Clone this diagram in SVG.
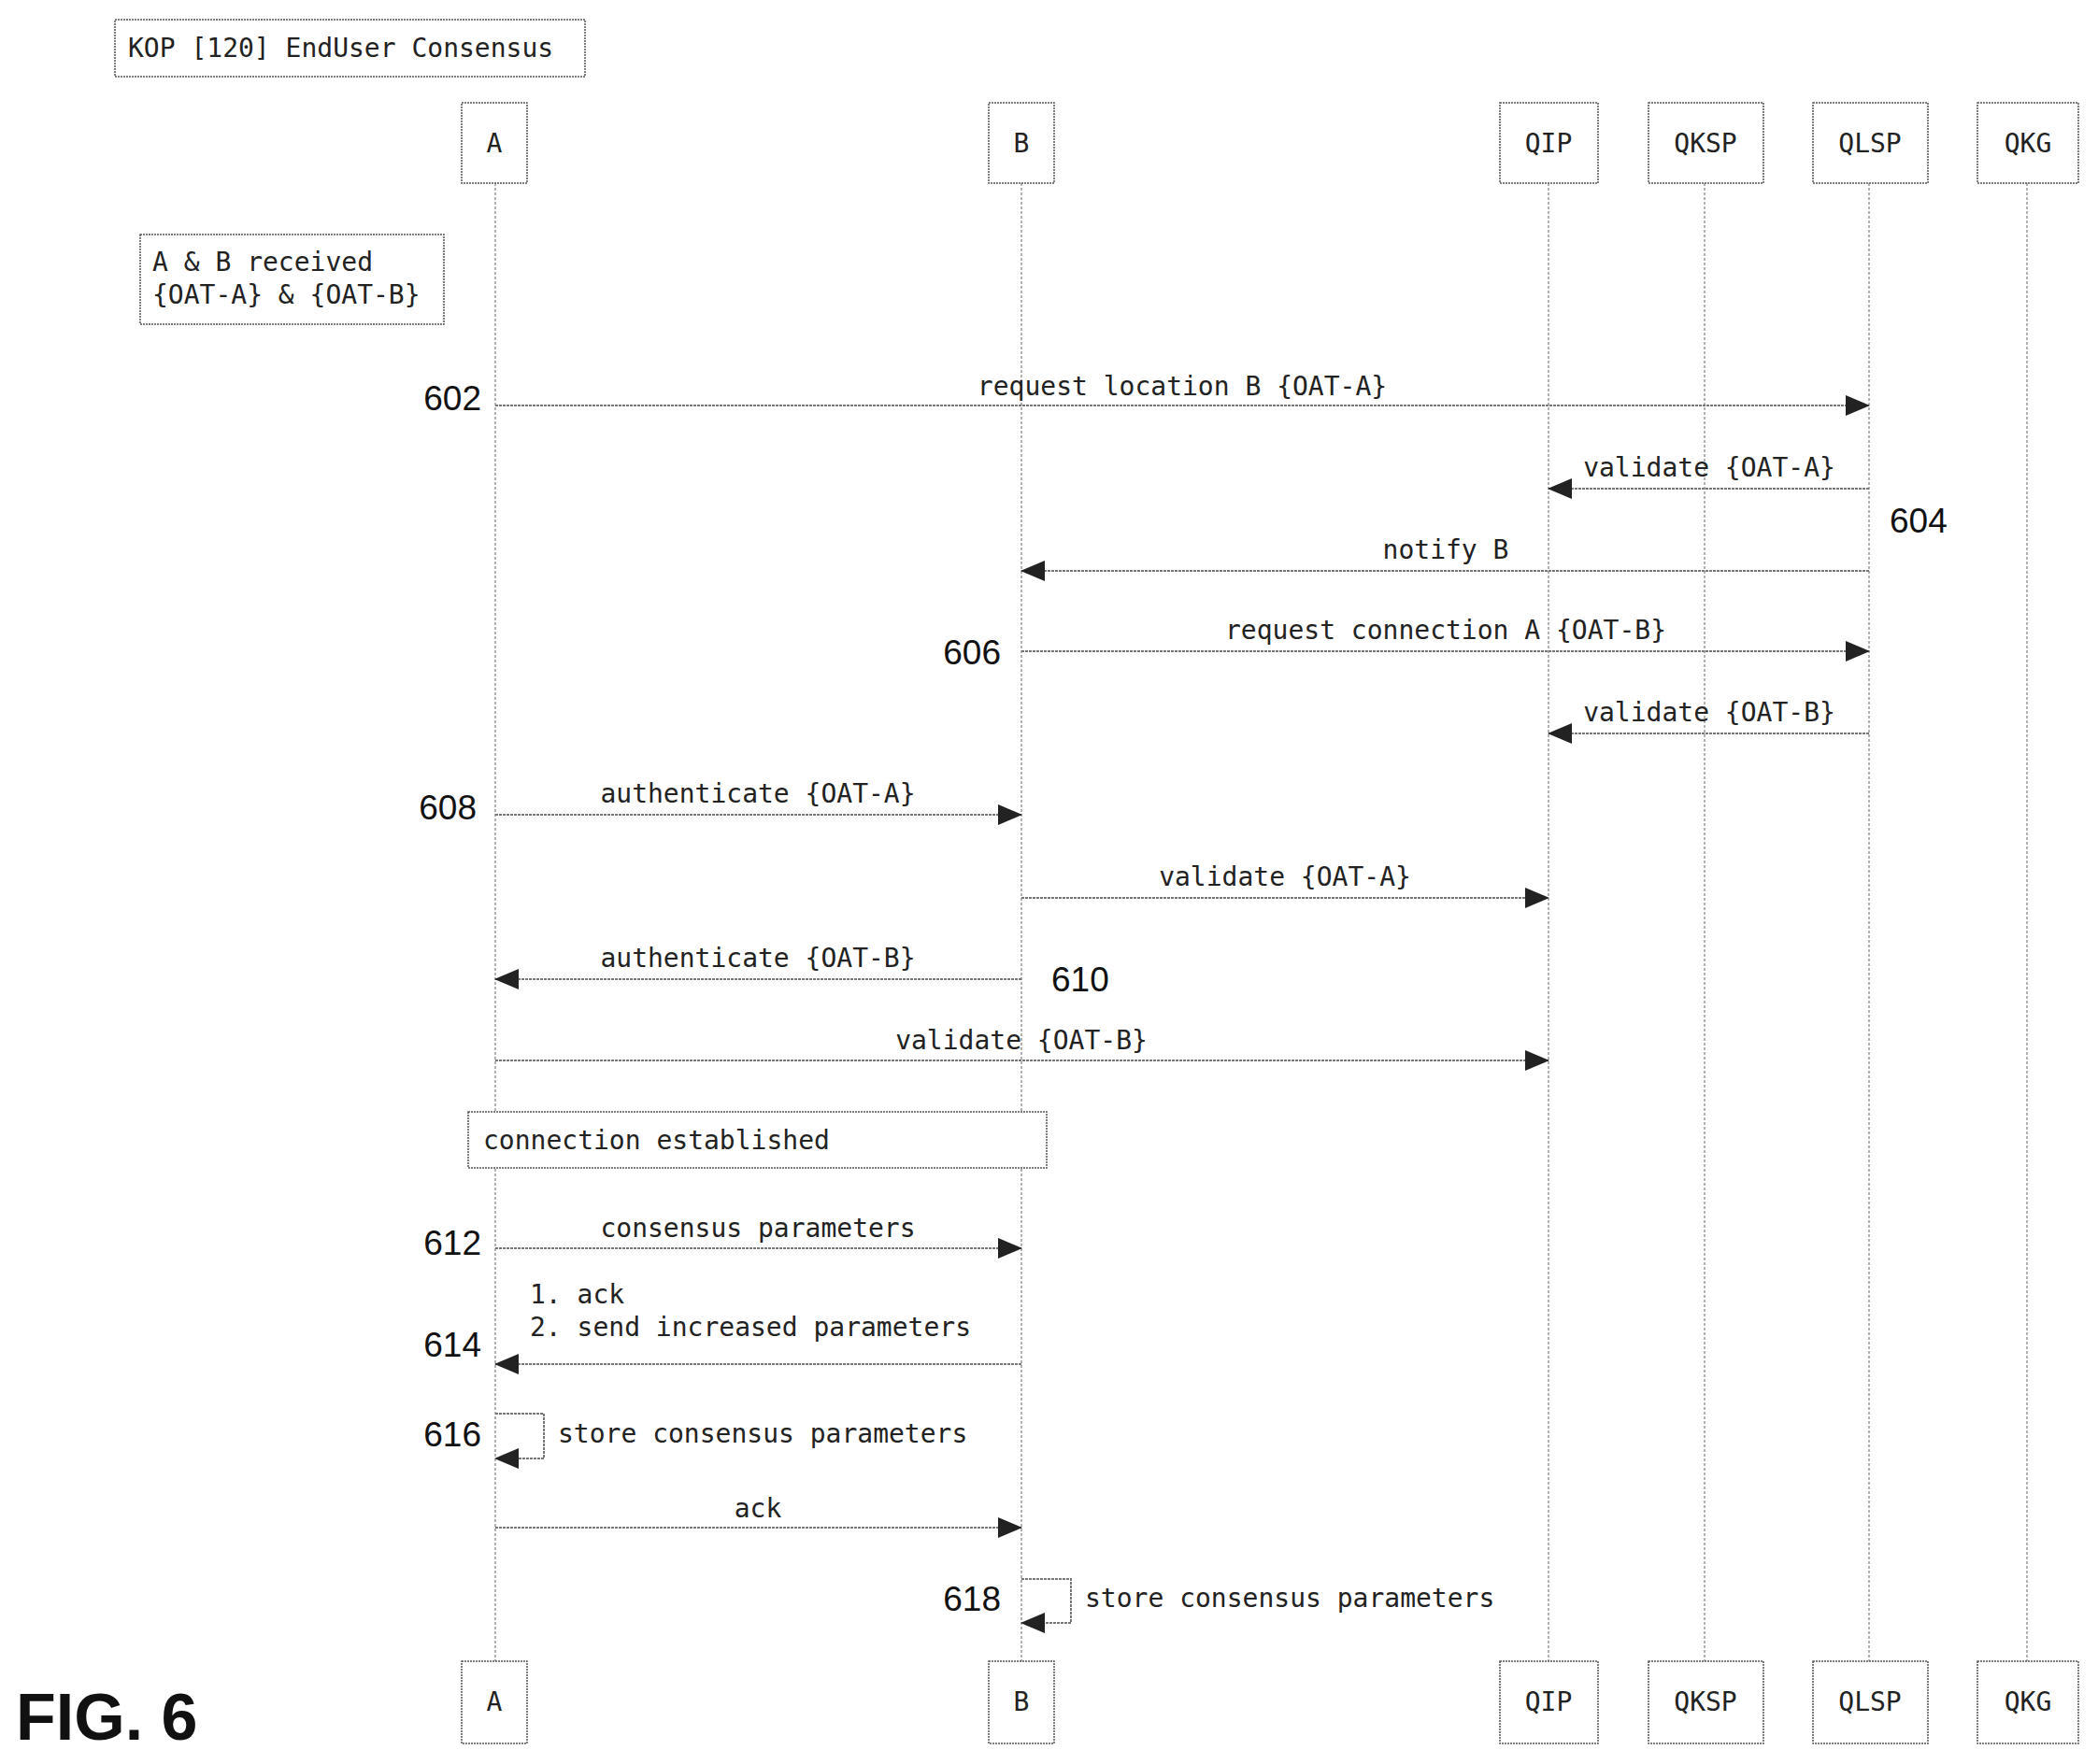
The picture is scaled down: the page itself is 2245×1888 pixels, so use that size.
<svg xmlns="http://www.w3.org/2000/svg" width="2245" height="1888" viewBox="0 0 2245 1888">
<style>
.box{fill:#fff;stroke:#555;stroke-width:1.5;stroke-dasharray:2 1}
.life{stroke:#999;stroke-width:1.5;stroke-dasharray:3 2}
.msg{stroke:#777;stroke-width:2;stroke-dasharray:3 1;fill:none;marker-end:url(#ah)}
.t{font-family:"DejaVu Sans Mono","Liberation Mono",monospace;font-size:28px;fill:#222}
.c{text-anchor:middle}
.n{font-family:"Liberation Sans",Arial,sans-serif;font-size:37px;fill:#111}
</style>
<defs><marker id="ah" markerWidth="26" markerHeight="22" refX="25" refY="11" orient="auto" markerUnits="userSpaceOnUse"><path d="M0,0 L26,11 L0,22 Z" fill="#222"/></marker></defs>
<rect x="0" y="0" width="2245" height="1888" fill="#fff"/>
<g id="title"><rect class="box" x="123" y="21" width="503" height="61"/><text class="t" x="137" y="61">KOP [120] EndUser Consensus</text></g>
<g id="lifelines">
<line class="life" x1="530" y1="196" x2="530" y2="1778"/>
<line class="life" x1="1093" y1="196" x2="1093" y2="1778"/>
<line class="life" x1="1657" y1="196" x2="1657" y2="1778"/>
<line class="life" x1="1824" y1="196" x2="1824" y2="1778"/>
<line class="life" x1="2000" y1="196" x2="2000" y2="1778"/>
<line class="life" x1="2169" y1="196" x2="2169" y2="1778"/>
</g>
<g id="A"><rect class="box" x="494" y="110" width="70" height="86"/><text class="t c" x="529" y="163">A</text><rect class="box" x="494" y="1778" width="70" height="88"/><text class="t c" x="529" y="1831">A</text></g>
<g id="B"><rect class="box" x="1058" y="110" width="70" height="86"/><text class="t c" x="1093" y="163">B</text><rect class="box" x="1058" y="1778" width="70" height="88"/><text class="t c" x="1093" y="1831">B</text></g>
<g id="QIP"><rect class="box" x="1605" y="110" width="105" height="86"/><text class="t c" x="1657" y="163">QIP</text><rect class="box" x="1605" y="1778" width="105" height="88"/><text class="t c" x="1657" y="1831">QIP</text></g>
<g id="QKSP"><rect class="box" x="1764" y="110" width="123" height="86"/><text class="t c" x="1825" y="163">QKSP</text><rect class="box" x="1764" y="1778" width="123" height="88"/><text class="t c" x="1825" y="1831">QKSP</text></g>
<g id="QLSP"><rect class="box" x="1940" y="110" width="123" height="86"/><text class="t c" x="2001" y="163">QLSP</text><rect class="box" x="1940" y="1778" width="123" height="88"/><text class="t c" x="2001" y="1831">QLSP</text></g>
<g id="QKG"><rect class="box" x="2116" y="110" width="108" height="86"/><text class="t c" x="2170" y="163">QKG</text><rect class="box" x="2116" y="1778" width="108" height="88"/><text class="t c" x="2170" y="1831">QKG</text></g>
<g id="note"><rect class="box" x="150" y="251" width="325" height="96"/><text class="t" x="163" y="290">A &amp; B received</text><text class="t" x="163" y="325">{OAT-A} &amp; {OAT-B}</text></g>
<g id="established"><rect class="box" x="501" y="1190" width="619" height="60"/><text class="t" x="517" y="1230">connection established</text></g>
<g id="connectors">
<line class="msg" x1="530" y1="434" x2="2000" y2="434"/>
<line class="msg" x1="2000" y1="523" x2="1657" y2="523"/>
<line class="msg" x1="2000" y1="611" x2="1093" y2="611"/>
<line class="msg" x1="1093" y1="697" x2="2000" y2="697"/>
<line class="msg" x1="2000" y1="785" x2="1657" y2="785"/>
<line class="msg" x1="530" y1="872" x2="1093" y2="872"/>
<line class="msg" x1="1093" y1="961" x2="1657" y2="961"/>
<line class="msg" x1="1093" y1="1048" x2="530" y2="1048"/>
<line class="msg" x1="530" y1="1135" x2="1657" y2="1135"/>
<line class="msg" x1="530" y1="1336" x2="1093" y2="1336"/>
<line class="msg" x1="1093" y1="1460" x2="530" y2="1460"/>
<path class="msg" d="M530,1513 H582 V1561 H530"/>
<line class="msg" x1="530" y1="1635" x2="1093" y2="1635"/>
<path class="msg" d="M1093,1690 H1146 V1737 H1093"/>
</g>
<g id="labels">
<text class="t c" x="1265" y="423">request location B {OAT-A}</text>
<text class="t c" x="1829" y="510">validate {OAT-A}</text>
<text class="t c" x="1547" y="598">notify B</text>
<text class="t c" x="1547" y="684">request connection A {OAT-B}</text>
<text class="t c" x="1829" y="772">validate {OAT-B}</text>
<text class="t c" x="811" y="859">authenticate {OAT-A}</text>
<text class="t c" x="1375" y="948">validate {OAT-A}</text>
<text class="t c" x="811" y="1035">authenticate {OAT-B}</text>
<text class="t c" x="1093" y="1123">validate {OAT-B}</text>
<text class="t c" x="811" y="1324">consensus parameters</text>
<text class="t" x="567" y="1395">1. ack</text>
<text class="t" x="567" y="1430">2. send increased parameters</text>
<text class="t" x="597" y="1544">store consensus parameters</text>
<text class="t c" x="811" y="1624">ack</text>
<text class="t" x="1161" y="1720">store consensus parameters</text>
</g>
<g id="numbers">
<text class="n" x="515" y="439" text-anchor="end">602</text>
<text class="n" x="2022" y="570">604</text>
<text class="n" x="1071" y="711" text-anchor="end">606</text>
<text class="n" x="510" y="877" text-anchor="end">608</text>
<text class="n" x="1125" y="1061">610</text>
<text class="n" x="515" y="1343" text-anchor="end">612</text>
<text class="n" x="515" y="1452" text-anchor="end">614</text>
<text class="n" x="515" y="1548" text-anchor="end">616</text>
<text class="n" x="1071" y="1724" text-anchor="end">618</text>
</g>
<text x="17" y="1862" font-family="Liberation Sans,Arial,sans-serif" font-weight="bold" font-size="70" fill="#111">FIG. 6</text>
</svg>
